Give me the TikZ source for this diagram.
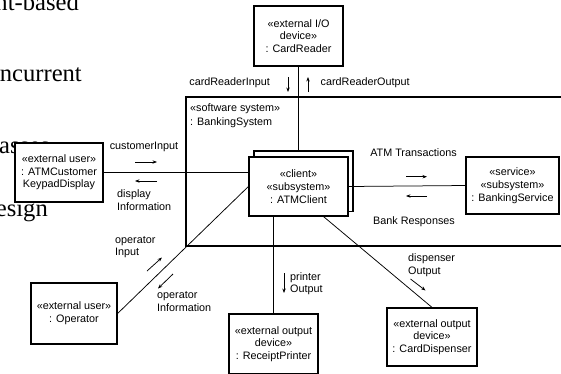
\documentclass[tikz,border=0pt]{standalone}
\usepackage{fontspec}
\setmainfont{Liberation Sans}
\newfontfamily\slidefont{Liberation Serif}
\usetikzlibrary{arrows.meta,calc}

\begin{document}
\begin{tikzpicture}[x=1pt,y=-1pt,
  box/.style={draw,line width=1.2pt,fill=white,align=center,inner sep=0pt,
              font=\fontsize{10.8}{12.7}\selectfont},
  frame/.style={draw,line width=1.2pt,inner sep=0pt},
  lbl/.style={inner sep=0pt,align=left,font=\fontsize{10.8}{12.7}\selectfont},
  conn/.style={line width=0.75pt},
  msg/.style={line width=0.75pt,-{Stealth[length=4.5pt,width=3.4pt]}},
  slide/.style={inner sep=0pt,font=\slidefont\fontsize{24.6}{30}\selectfont}
]
\useasboundingbox (0,0) rectangle (561,373);
\clip (0,0) rectangle (561,373);
\fill[white] (0,0) rectangle (561,373);

% slide text lying underneath the diagram
\node[slide,anchor=base east] (t1) at (79,10) {nt-based};
\node[slide,anchor=base east] (t2) at (82,81) {ncurrent};
\node[slide,anchor=base west] (t3) at (-1,153) {asses};
\node[slide,anchor=base east] (t4) at (48,216) {esign};

% enclosing software system
\node[frame,minimum width=420pt,minimum height=149pt] (sys) at (396,171.5) {};
\node[lbl,anchor=north west] (systitle) at (190,103.5)
  {«software system»\\[1pt]: BankingSystem};

% external objects and subsystems
\node[box,minimum width=89pt,minimum height=60pt] (reader) at (298.5,36)
  {«external I/O\\device»\\: CardReader};
\node[box,minimum width=88pt,minimum height=59pt] (customer) at (59,172.5)
  {«external user»\\: ATMCustomer\\KeypadDisplay};
\node[box,minimum width=99pt,minimum height=60.5pt] (clientback) at (303.5,181.3) {};
\node[box,minimum width=99pt,minimum height=59pt] (client) at (298.5,186.5)
  {«client»\\«subsystem»\\: ATMClient};
\node[box,minimum width=93pt,minimum height=57pt] (service) at (512.5,185.5)
  {«service»\\«subsystem»\\: BankingService};
\node[box,minimum width=86pt,minimum height=61pt] (operator) at (74,313.5)
  {«external user»\\: Operator};
\node[box,minimum width=89pt,minimum height=60pt] (printer) at (273.5,344)
  {«external output\\device»\\: ReceiptPrinter};
\node[box,minimum width=90pt,minimum height=58pt] (dispenser) at (432,337)
  {«external output\\device»\\: CardDispenser};

% links
\draw[conn] (reader.south) -- (reader.south |- clientback.north);
\draw[conn] (customer.east) -- (customer.east -| client.west);
\draw[conn] (client.east) -- (service.west);
\draw[conn] (operator.east) -- (client.west);
\draw[conn] (printer.north) -- (printer.north |- client.south);
\draw[conn] ($(client.south)!.5!(client.south east)$) -- (dispenser.north);

% message arrows
\coordinate (ri1) at (288,77);   \coordinate (ri2) at (288,92);
\coordinate (ro1) at (308,92);   \coordinate (ro2) at (308,77);
\coordinate (ci1) at (135,162);  \coordinate (ci2) at (157,162);
\coordinate (di1) at (157,181);  \coordinate (di2) at (135,181);
\coordinate (at1) at (406,176.7);\coordinate (at2) at (427,176.7);
\coordinate (br1) at (427,196);  \coordinate (br2) at (406,196);
\coordinate (oi1) at (147,271);  \coordinate (oi2) at (162,257.5);
\coordinate (of1) at (173,274);  \coordinate (of2) at (158,288.5);
\coordinate (po1) at (284,273);  \coordinate (po2) at (284,293);
\coordinate (do1) at (410.5,279);\coordinate (do2) at (425.5,290.5);
\draw[msg] (ri1) -- (ri2);
\draw[msg] (ro1) -- (ro2);
\draw[msg] (ci1) -- (ci2);
\draw[msg] (di1) -- (di2);
\draw[msg] (at1) -- (at2);
\draw[msg] (br1) -- (br2);
\draw[msg] (oi1) -- (oi2);
\draw[msg] (of1) -- (of2);
\draw[msg] (po1) -- (po2);
\draw[msg] (do1) -- (do2);

% message labels
\node[lbl,anchor=east] (lri) at (270,83) {cardReaderInput};
\node[lbl,anchor=west] (lro) at (320.5,83) {cardReaderOutput};
\node[lbl] (lci) at (144,147) {customerInput};
\node[lbl,anchor=north west] (ldi) at (117,189.5) {display\\Information};
\node[lbl] (lat) at (413.5,152.5) {ATM Transactions};
\node[lbl] (lbr) at (414,222) {Bank Responses};
\node[lbl,anchor=north west] (loi) at (115,236) {operator\\Input};
\node[lbl,anchor=north west] (lof) at (157,291.5) {operator\\Information};
\node[lbl,anchor=north west] (lpo) at (290,272) {printer\\Output};
\node[lbl,anchor=north west] (ldo) at (408,253.5) {dispenser\\Output};
\end{tikzpicture}
\end{document}
